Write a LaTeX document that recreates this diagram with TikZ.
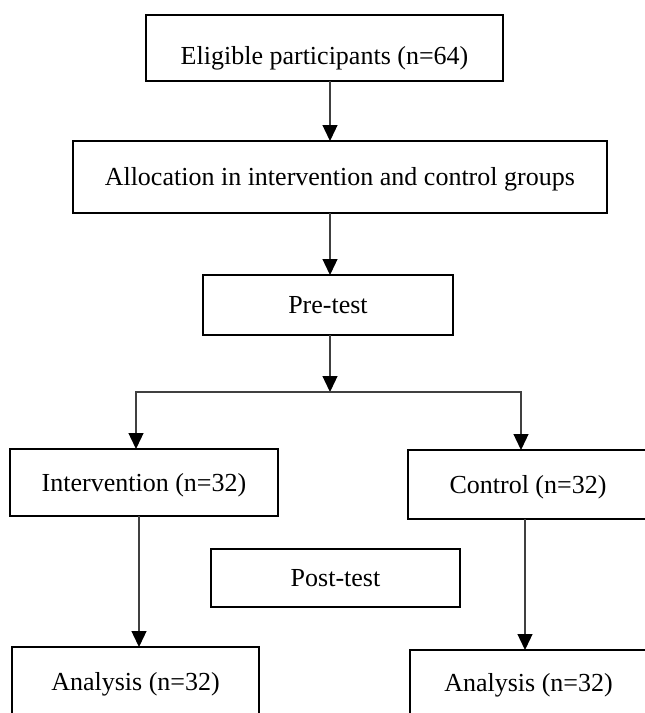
\documentclass[tikz,border=0pt]{standalone}
\usepackage{fontspec}
\setmainfont{Liberation Serif}
\usetikzlibrary{arrows.meta}
\tikzset{
  box/.style={draw, rectangle, line width=2.6pt, inner sep=0pt, outer sep=0pt, text height=17pt, text depth=0pt, font=\fontsize{26}{31}\selectfont},
  arr/.style={draw=black!75, line width=1.3pt, -{Triangle[width=15pt,length=16pt,color=black]}}
}
\begin{document}
\begin{tikzpicture}[x=1pt,y=-1pt]
\useasboundingbox (0,0) rectangle (645,713); \clip (0,0) rectangle (645,713);
\node[box, minimum width=357pt, minimum height=66pt, text height=32pt] (elig) at (324.5,48) {Eligible participants (n=64)};
\node[box, minimum width=534pt, minimum height=72pt] (alloc) at (339.8,177) {Allocation in intervention and control groups};
\node[box, minimum width=250pt, minimum height=60pt] (pre) at (328,305) {Pre-test};
\node[box, minimum width=268pt, minimum height=67pt] (intv) at (144,482.5) {Intervention (n=32)};
\node[box, minimum width=240pt, minimum height=69pt] (ctrl) at (528,484.5) {Control (n=32)};
\node[box, minimum width=249pt, minimum height=58pt] (post) at (335.5,578) {Post-test};
\node[box, minimum width=247pt, minimum height=69pt] (anl) at (135.5,681.5) {Analysis (n=32)};
\node[box, minimum width=237pt, minimum height=66pt] (anr) at (528.5,683) {Analysis (n=32)};
\coordinate (mid) at (330,0); \coordinate (split) at (330,392);
\draw[arr] (elig.south -| mid) -- (alloc.north -| mid); \draw[arr] (alloc.south -| mid) -- (pre.north -| mid);
\draw[arr] (pre.south -| mid) -- (split);
\draw[arr] (split) -| ([xshift=-8pt]intv.north); \draw[arr] (split) -| ([xshift=-7pt]ctrl.north);
\draw[arr] ([xshift=-5pt]intv.south) -- ([xshift=-5pt]intv.south |- anl.north);
\draw[arr] ([xshift=-3pt]ctrl.south) -- ([xshift=-3pt]ctrl.south |- anr.north);
\end{tikzpicture}
\end{document}
